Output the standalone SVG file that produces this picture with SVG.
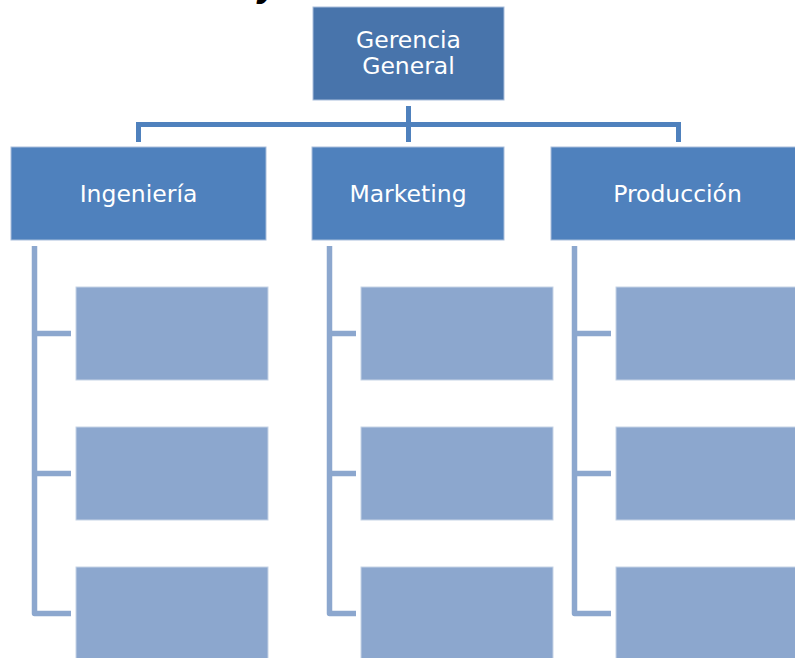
<svg xmlns="http://www.w3.org/2000/svg" width="795" height="658" viewBox="0 0 795 658">
  <style>
    .top { fill: #4874ab; stroke: #a9bedb; stroke-width: 1; }
    .dept { fill: #4f81bd; stroke: #a9bedb; stroke-width: 1; }
    .sub { fill: #8ca7ce; stroke: #c6d3e6; stroke-width: 1; }
    .label { font-family: "DejaVu Sans", Verdana, sans-serif; font-size: 23.5px; fill: #ffffff; text-anchor: middle; }
    .link-top { fill: none; stroke: #4f81bd; stroke-width: 5; }
    .link-sub { fill: none; stroke: #8ca7ce; stroke-width: 5.5; stroke-linejoin: round; }
    .title { font-family: "Liberation Sans", Arial, sans-serif; font-size: 38px; font-weight: bold; font-style: italic; fill: #000000; }
  </style>
  <rect width="795" height="658" fill="#ffffff"/>

  <!-- heading text, mostly above the page edge -->
  <text class="title" x="258" y="-4">y</text>

  <g id="connectors">
    <path class="link-top" d="M408.5 106 V142"/>
    <path class="link-top" d="M138.5 142 V124.5 H678.5 V142"/>

    <path class="link-sub" d="M34.5 246 V613.5 H71"/>
    <path class="link-sub" d="M34.5 333.5 H71 M34.5 473.5 H71"/>

    <path class="link-sub" d="M329.5 246 V613.5 H356"/>
    <path class="link-sub" d="M329.5 333.5 H356 M329.5 473.5 H356"/>

    <path class="link-sub" d="M574.5 246 V613.5 H611"/>
    <path class="link-sub" d="M574.5 333.5 H611 M574.5 473.5 H611"/>
  </g>

  <g id="gerencia-general">
    <rect class="top" x="313" y="7" width="191" height="93"/>
    <text class="label" x="408.5" y="48">Gerencia</text>
    <text class="label" x="408.5" y="74">General</text>
  </g>

  <g id="ingenieria">
    <rect class="dept" x="11" y="147" width="255" height="93"/>
    <text class="label" x="138.5" y="202">Ingeniería</text>
  </g>
  <g id="marketing">
    <rect class="dept" x="312" y="147" width="192" height="93"/>
    <text class="label" x="408" y="202">Marketing</text>
  </g>
  <g id="produccion">
    <rect class="dept" x="551" y="147" width="254" height="93"/>
    <text class="label" x="677.5" y="202">Producción</text>
  </g>

  <g id="ingenieria-1"><rect class="sub" x="76" y="287" width="192" height="93"/></g>
  <g id="ingenieria-2"><rect class="sub" x="76" y="427" width="192" height="93"/></g>
  <g id="ingenieria-3"><rect class="sub" x="76" y="567" width="192" height="93"/></g>

  <g id="marketing-1"><rect class="sub" x="361" y="287" width="192" height="93"/></g>
  <g id="marketing-2"><rect class="sub" x="361" y="427" width="192" height="93"/></g>
  <g id="marketing-3"><rect class="sub" x="361" y="567" width="192" height="93"/></g>

  <g id="produccion-1"><rect class="sub" x="616" y="287" width="192" height="93"/></g>
  <g id="produccion-2"><rect class="sub" x="616" y="427" width="192" height="93"/></g>
  <g id="produccion-3"><rect class="sub" x="616" y="567" width="192" height="93"/></g>
</svg>
